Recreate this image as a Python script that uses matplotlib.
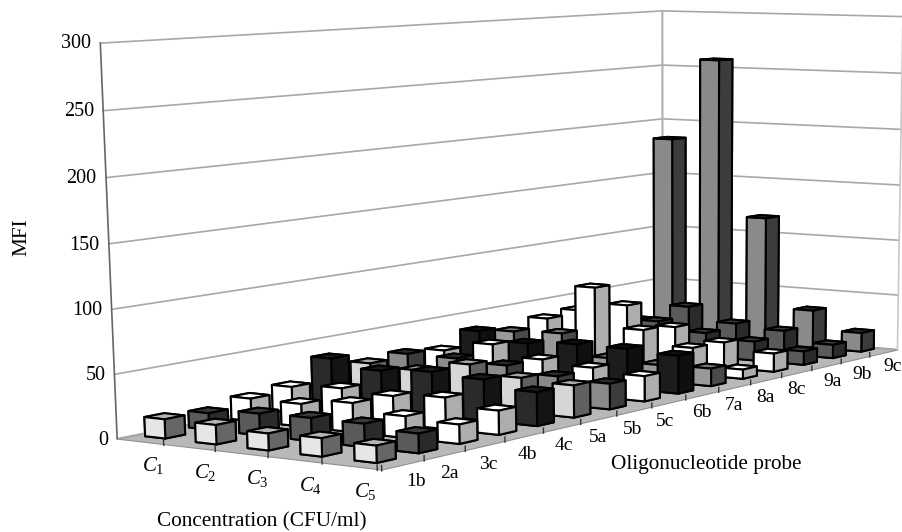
import numpy as np
import matplotlib
matplotlib.use('Agg')
import matplotlib.pyplot as plt
from mpl_toolkits.mplot3d import proj3d
from mpl_toolkits.mplot3d.art3d import Poly3DCollection

plt.rcParams['font.family'] = ['Liberation Serif']
plt.rcParams['mathtext.fontset'] = 'custom'
plt.rcParams['mathtext.rm'] = 'Liberation Serif'
plt.rcParams['mathtext.it'] = 'Liberation Serif:italic'

probes = ['1b','2a','3c','4b','4c','5a','5b','5c','6b','7a','8a','8c','9a','9b','9c']
concentrations = ['$C_1$','$C_2$','$C_3$','$C_4$','$C_5$']
z_ticks = [0,50,100,150,200,250,300]

# values, one list per concentration
c1_values = [15,13,18,21,38,28,30,27,38,32,38,40,25,20,184]
c2_values = [15,17,18,24,32,26,30,36,31,34,69,48,28,36,258]
c3_values = [13,18,23,22,35,35,28,27,34,16,35,32,21,24,116]
c4_values = [14,18,17,25,33,28,23,24,34,14,23,22,17,21,34]
c5_values = [13,15,15,19,27,26,21,21,32,15,8,16,12,12,17]
values = [c1_values,c2_values,c3_values,c4_values,c5_values]

probe_shade = ['light','dark','white','white','black','pale','grey','white','ink','mid','white','white','dark','dark','grey']
# left face, top face, right face
shades = {'white':('#ffffff','#ffffff','#adadad'),
          'light':('#e6e6e6','#b5b5b5','#666666'),
          'pale':('#d6d6d6','#a8a8a8','#606060'),
          'dark':('#5a5a5a','#3a3a3a','#2a2a2a'),
          'black':('#2a2a2a','#1a1a1a','#141414'),
          'ink':('#1c1c1c','#111111','#0f0f0f'),
          'grey':('#8a8a8a','#2a2a2a','#3c3c3c'),
          'mid':('#999999','#777777','#4a4a4a')}

# how far each probe label sits from its place along the axis
probe_label_shift = [0,-.2,-.22,-.22,-.26,-.32,-.35,-.42,-.3,-.33,-.32,-.3,-.1,-.05,.03]

fig = plt.figure(figsize=(9.02,5.32),dpi=100)
# camera found by fitting the wall corners of the picture
ax = fig.add_axes([356.64/902,-524.17/532,614.695/902,614.695/532],projection='3d',computed_zorder=False)
ax.view_init(14.462,-146.969,0.0312625)
ax.set_box_aspect((np.exp(0.944926),np.exp(-0.14898),1),zoom=np.exp(0.525564))
ax.set_xlim(5.46994-7.5,5.46994+7.5)
ax.set_ylim(-1.37474-2.5,-1.37474+2.5)
ax.set_zlim(-256.154-150,-256.154+150)
ax.set_axis_off()
ax.patch.set_alpha(0)

def label(x,y,z,text,**kw):
    # project by hand so the label is plain 2d text
    u,v,_ = proj3d.proj_transform(x,y,z,ax.get_proj())
    fig.text(u,v,text,transform=ax.transData,ha=kw.pop('ha','center'),va='center',**kw)

# floor and walls
floor = [[(0,0,0),(15,0,0),(15,5,0),(0,5,0)]]
ax.add_collection3d(Poly3DCollection(floor,facecolor='#b8b8b8',edgecolor='#909090',linewidth=.8,zorder=1,clip_on=False))
for z in z_ticks:
    ax.plot([0,15,15],[5,5,0],[z,z,z],color='#a8a8a8',lw=1.2,zorder=2,clip_on=False)
ax.plot([15,15],[5,5],[0,300],color='#b0b0b0',lw=1.5,zorder=2,clip_on=False)
ax.plot([15,15],[0,0],[0,300],color='#c8c8c8',lw=1.2,zorder=2,clip_on=False)
ax.plot([0,0],[5,5],[0,300],color='#666666',lw=1.2,zorder=2,clip_on=False)

# tick marks at the front edges
for i in range(len(probes)):
    ax.plot([i,i],[0,0],[3,-1],color='#333333',lw=1,zorder=3,clip_on=False)
for j in range(len(concentrations)):
    ax.plot([0,0],[4-j+.08,4-j+.08],[3,-1],color='#333333',lw=1,zorder=3,clip_on=False)

# far bars first, so nearer ones paint over them
order = 10
for i in range(len(probes)-1,-1,-1):
    for j in range(len(concentrations)):
        left,top,right = shades[probe_shade[i]]
        ax.bar3d(i+.4,4-j+.4,0,.45,.4,values[j][i],color=[left,top,right,right,left,right],
                 edgecolor='black',linewidth=1.5,shade=False,zorder=order,clip_on=False)
        order += 1

for z in z_ticks:
    label(-.2,5,z,str(z),ha='right',fontsize=14.5)
for j,c in enumerate(concentrations):
    label(0,4-j+.3,-18,c,fontsize=15)
for i,p in enumerate(probes):
    label(i+.8+probe_label_shift[i],0,-15,p,fontsize=14)

fig.text(22/902,1-237/532,'MFI',rotation=90,ha='center',va='center',fontsize=15.3)
fig.text(262/902,1-522/532,'Concentration (CFU/ml)',ha='center',va='center',fontsize=15.3)
fig.text(706/902,1-464/532,'Oligonucleotide probe',ha='center',va='center',fontsize=15.3)
fig.savefig('out.png',dpi=100)
